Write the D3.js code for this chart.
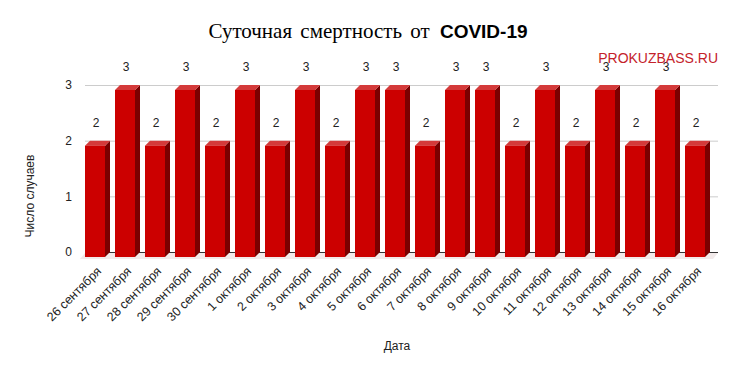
<!DOCTYPE html>
<html>
<head>
<meta charset="utf-8">
<script src="https://cdn.jsdelivr.net/npm/d3@7"></script>
<style>
  body { margin: 0; background: #fff; }
  text { font-family: "Liberation Sans", Arial, sans-serif; }
</style>
</head>
<body>
<script>
var dates = ['26 сентября', '27 сентября', '28 сентября', '29 сентября', '30 сентября',
  '1 октября', '2 октября', '3 октября', '4 октября', '5 октября', '6 октября',
  '7 октября', '8 октября', '9 октября', '10 октября', '11 октября', '12 октября',
  '13 октября', '14 октября', '15 октября', '16 октября'];
var deaths = [2, 3, 2, 3, 2, 3, 2, 3, 2, 3, 3, 2, 3, 3, 2, 3, 2, 3, 2, 3, 2];
var yTicks = [0, 1, 2, 3];

var width = 737, height = 371;
var depth = 5;

var svg = d3.select('body').append('svg')
  .attr('width', width)
  .attr('height', height);

var x = d3.scaleBand()
  .domain(dates)
  .range([80, 710])
  .paddingInner(1 / 3)
  .paddingOuter(1 / 6);

var y = d3.scaleLinear()
  .domain([0, 3])
  .range([252, 85]);

// gridlines
svg.append('g')
  .selectAll('line')
  .data(yTicks)
  .enter()
  .append('line')
  .attr('x1', 85)
  .attr('x2', 718)
  .attr('y1', function(d) { return y(d) + 0.5; })
  .attr('y2', function(d) { return y(d) + 0.5; })
  .attr('stroke', function(d) { return d === 0 ? '#333' : '#cccccc'; })
  .attr('stroke-width', 1);

// floor shadow
svg.append('polygon')
  .attr('points', [[85, y(0) + 1], [718, y(0) + 1], [713, y(0) + 7], [80, y(0) + 7]].join(' '))
  .attr('fill', '#f2eaea');

// y tick labels
svg.append('g')
  .selectAll('text')
  .data(yTicks)
  .enter()
  .append('text')
  .attr('x', 72)
  .attr('y', function(d) { return y(d); })
  .attr('dy', '0.35em')
  .attr('text-anchor', 'end')
  .attr('font-size', '12px')
  .attr('fill', '#222')
  .text(function(d) { return d; });

var bars = svg.append('g')
  .selectAll('g')
  .data(dates)
  .enter()
  .append('g');

function bx(d) { return x(d); }
function barTop(i) { return y(deaths[i]); }

// side face
bars.append('polygon')
  .attr('points', function(d, i) {
    var x0 = bx(d) + x.bandwidth();
    return [[x0, barTop(i) + depth], [x0 + depth, barTop(i)], [x0 + depth, y(0)], [x0, y(0) + depth]].join(' ');
  })
  .attr('fill', '#7a0000');

// top face
bars.append('polygon')
  .attr('points', function(d, i) {
    var x0 = bx(d), x1 = bx(d) + x.bandwidth();
    return [[x0, barTop(i) + depth], [x0 + depth, barTop(i)], [x1 + depth, barTop(i)], [x1, barTop(i) + depth]].join(' ');
  })
  .attr('fill', '#d43a3a');

// front face
bars.append('rect')
  .attr('x', bx)
  .attr('y', function(d, i) { return barTop(i) + depth; })
  .attr('width', x.bandwidth())
  .attr('height', function(d, i) { return y(0) - barTop(i); })
  .attr('fill', '#cc0000');

// value labels
bars.append('text')
  .attr('x', function(d) { return bx(d) + x.bandwidth() / 2 + 1; })
  .attr('y', function(d, i) { return barTop(i) - 14; })
  .attr('text-anchor', 'middle')
  .attr('font-size', '12px')
  .attr('fill', '#222')
  .text(function(d, i) { return deaths[i]; });

// x labels
svg.append('g')
  .selectAll('text')
  .data(dates)
  .enter()
  .append('text')
  .attr('transform', function(d) {
    return 'translate(' + (bx(d) + x.bandwidth() / 2 + 7) + ',' + 272 + ') rotate(-45)';
  })
  .attr('text-anchor', 'end')
  .attr('font-size', '12.5px')
  .attr('fill', '#222')
  .text(function(d) { return d; });

// title
var title = svg.append('text')
  .attr('x', 368)
  .attr('y', 38)
  .attr('text-anchor', 'middle')
  .attr('fill', '#000');
title.append('tspan')
  .attr('font-family', '"Liberation Serif", "Times New Roman", serif')
  .attr('font-size', '21px')
  .attr('word-spacing', '3px')
  .text('Суточная смертность от ');
title.append('tspan')
  .attr('font-family', '"Liberation Sans", Arial, sans-serif')
  .attr('font-weight', 'bold')
  .attr('font-size', '19px')
  .attr('dx', 2)
  .text('COVID-19');

// watermark
svg.append('text')
  .attr('x', 718)
  .attr('y', 63)
  .attr('text-anchor', 'end')
  .attr('font-size', '14px')
  .attr('fill', '#c4222a')
  .text('PROKUZBASS.RU');

// axis titles
svg.append('text')
  .attr('transform', 'translate(34,196) rotate(-90)')
  .attr('text-anchor', 'middle')
  .attr('font-size', '12px')
  .attr('fill', '#222')
  .text('Число случаев');

svg.append('text')
  .attr('x', 397)
  .attr('y', 350)
  .attr('text-anchor', 'middle')
  .attr('font-size', '12px')
  .attr('fill', '#222')
  .text('Дата');
</script>
</body>
</html>
